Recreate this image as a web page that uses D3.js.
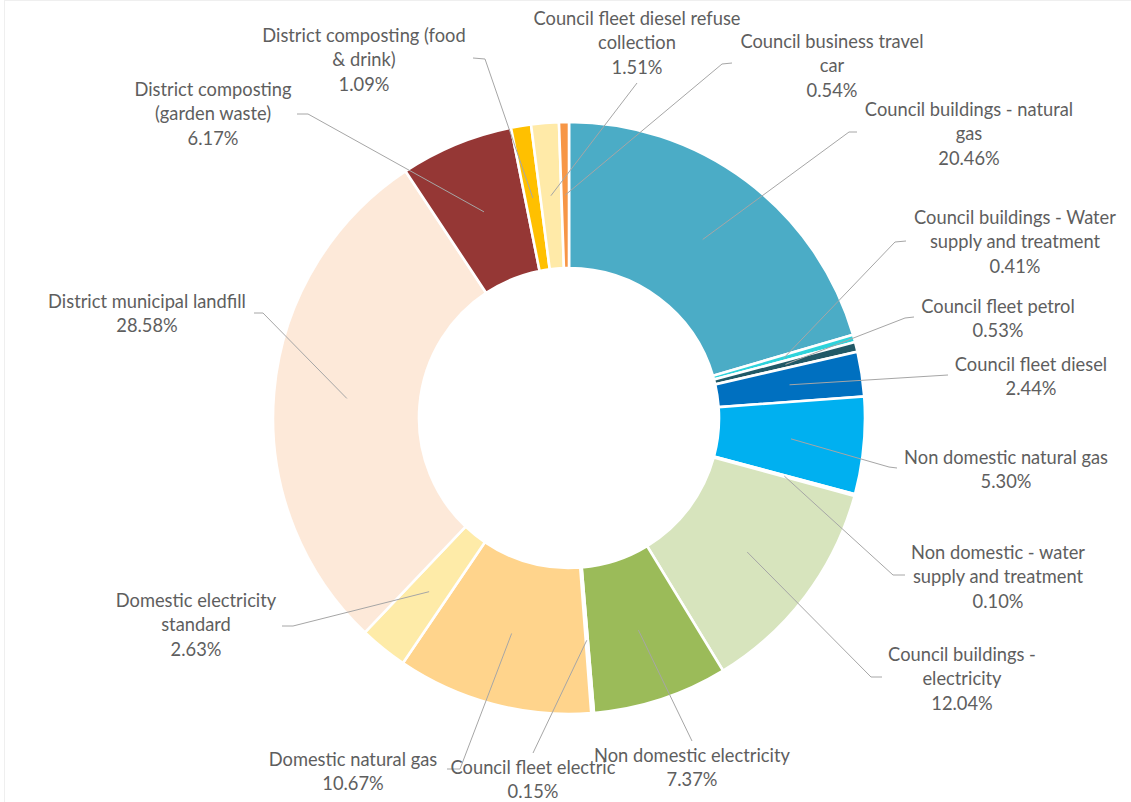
<!DOCTYPE html>
<html>
<head>
<meta charset="utf-8">
<script src="https://cdn.jsdelivr.net/npm/d3@7"></script>
<style>
  html, body { margin: 0; padding: 0; background: #fff; }
  svg { display: block; }
  text { font-family: Lato, "Open Sans", sans-serif; fill: #5E5E5E; }
</style>
</head>
<body>
<svg id="chart" width="1131" height="802"></svg>
<script>
// Emission sources, in drawing order (clockwise from 12 o'clock)
const categories = [
  "Council buildings - natural gas",
  "Council buildings - Water supply and treatment",
  "Council fleet petrol",
  "Council fleet diesel",
  "Non domestic natural gas",
  "Non domestic - water supply and treatment",
  "Council buildings - electricity",
  "Non domestic electricity",
  "Council fleet electric",
  "Domestic natural gas",
  "Domestic electricity standard",
  "District municipal landfill",
  "District composting (garden waste)",
  "District composting (food & drink)",
  "Council fleet diesel refuse collection",
  "Council business travel car"
];

// Share of total emissions, percent
const shares = [20.46, 0.41, 0.53, 2.44, 5.30, 0.10, 12.04, 7.37, 0.15, 10.67, 2.63, 28.58, 6.17, 1.09, 1.51, 0.54];

// How each category name wraps in its label
const labelWraps = [
  ["Council buildings - natural", "gas"],
  ["Council buildings - Water", "supply and treatment"],
  ["Council fleet petrol"],
  ["Council fleet diesel"],
  ["Non domestic natural gas"],
  ["Non domestic - water", "supply and treatment"],
  ["Council buildings -", "electricity"],
  ["Non domestic electricity"],
  ["Council fleet electric"],
  ["Domestic natural gas"],
  ["Domestic electricity", "standard"],
  ["District municipal landfill"],
  ["District composting", "(garden waste)"],
  ["District composting (food", "& drink)"],
  ["Council fleet diesel refuse", "collection"],
  ["Council business travel", "car"]
];

// Slice fills
const fills = [
  "#4BACC6", "#2ED3DB", "#215967", "#0070C0", "#00B0F0", "#F4F8FB",
  "#D7E4BD", "#9BBB59", "#FBFBF4", "#FFD48C", "#FEEBA8", "#FDE9D9",
  "#953735", "#FFC000", "#FFEAA8", "#F79646"
];

// Label placement: text centre x, first baseline y, leader elbow and leader end
const labelLayout = [
  { tx: 969,  ty: 116, elbow: [849, 132], end: [857, 132] },
  { tx: 1015, ty: 224, elbow: [895, 242], end: [906, 241] },
  { tx: 998,  ty: 313, elbow: [905, 318], end: [914, 317] },
  { tx: 1031, ty: 371, elbow: [948, 375], end: [948, 375] },
  { tx: 1006, ty: 464, elbow: [889, 467], end: [897, 468] },
  { tx: 998,  ty: 559, elbow: [893, 575], end: [905, 575] },
  { tx: 962,  ty: 661, elbow: [871, 677], end: [882, 677] },
  { tx: 692,  ty: 762, elbow: [692, 741], end: [692, 741] },
  { tx: 533,  ty: 774, elbow: [533, 753], end: [533, 753] },
  { tx: 353,  ty: 766, elbow: [460, 769], end: [447, 769] },
  { tx: 196,  ty: 607, elbow: [293, 626], end: [282, 626] },
  { tx: 147,  ty: 308, elbow: [263, 313], end: [254, 313] },
  { tx: 213,  ty: 96,  elbow: [308, 114], end: [297, 114] },
  { tx: 364,  ty: 42,  elbow: [485, 59],  end: [473, 58] },
  { tx: 637,  ty: 25,  elbow: [637, 83],  end: [637, 83] },
  { tx: 832,  ty: 48,  elbow: [722, 64],  end: [732, 63] }
];

const data = categories.map((name, i) => ({ name, value: shares[i], lines: labelWraps[i], fill: fills[i], layout: labelLayout[i] }));

const svg = d3.select("#chart");
const cx = 569, cy = 418;
const outerR = 296, innerR = 150;
const lineGap = 24.3;
const pct = v => d3.format(".2f")(v) + "%";

// faint chart-area frame
svg.append("rect")
  .attr("x", 4.5).attr("y", 0.5)
  .attr("width", 1140).attr("height", 820)
  .attr("fill", "none").attr("stroke", "#EFEFEF").attr("stroke-width", 1);

const pie = d3.pie().sort(null).value(d => d.value);
const arc = d3.arc().innerRadius(innerR).outerRadius(outerR);
const arcs = pie(data);

const g = svg.append("g").attr("transform", `translate(${cx},${cy})`);

g.selectAll("path.slice")
  .data(arcs)
  .join("path")
  .attr("class", "slice")
  .attr("d", arc)
  .attr("fill", d => d.data.fill)
  .attr("stroke", "#fff")
  .attr("stroke-width", 2.6)
  .attr("stroke-linejoin", "miter");

// leader lines from the middle of each ring segment to its label
const leader = d3.line();
svg.append("g")
  .selectAll("path.leader")
  .data(arcs)
  .join("path")
  .attr("class", "leader")
  .attr("d", d => {
    const [x, y] = arc.centroid(d);
    const L = d.data.layout;
    return leader([[cx + x, cy + y], L.elbow, L.end]);
  })
  .attr("fill", "none")
  .attr("stroke", "#A6A6A6")
  .attr("stroke-width", 1);

// labels: wrapped name plus percentage
const labels = svg.append("g")
  .selectAll("text.label")
  .data(arcs)
  .join("text")
  .attr("class", "label")
  .attr("text-anchor", "middle")
  .attr("font-size", 18.3);

labels.each(function(d) {
  const t = d3.select(this);
  const L = d.data.layout;
  const rows = d.data.lines.concat([pct(d.data.value)]);
  rows.forEach((r, k) => {
    t.append("tspan")
      .attr("x", L.tx)
      .attr("y", L.ty + k * lineGap)
      .text(r);
  });
});
</script>
</body>
</html>
